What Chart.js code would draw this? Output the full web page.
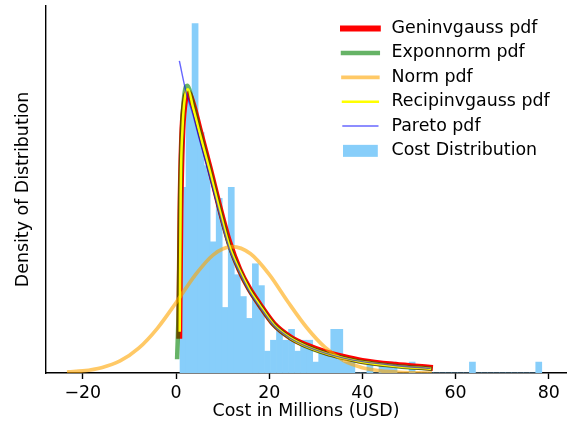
<!DOCTYPE html>
<html>
<head>
<meta charset="utf-8">
<script src="https://cdn.jsdelivr.net/npm/chart.js@4.4.0/dist/chart.umd.min.js"></script>
<style>
  html, body { margin: 0; padding: 0; background: #fff; }
  #wrap { width: 572px; height: 425px; }
</style>
</head>
<body>
<div id="wrap"><canvas id="costChart" width="572" height="425"></canvas></div>
<script>
// histogram of cost, 60 bins from 0.86 M USD, counts
const binStart = 0.86;
const binWidth = 1.294;
const binCounts = [17, 25, 32, 22, 19, 12, 16, 6, 17, 9,
                   7, 5, 10, 8, 2, 3, 4, 3, 4, 2,
                   3, 3, 1, 2, 2, 4, 4, 1, 1, 0,
                   0, 1, 0, 1, 1, 1, 0, 0, 1, 0,
                   0, 0, 0, 0, 0, 0, 0, 0, 1, 0,
                   0, 0, 0, 0, 0, 0, 0, 0, 0, 1];
const xTicks = [-20, 0, 20, 40, 60, 80];

// fitted pdfs (x = millions USD, y = density)
const geninvgaussX = [0.7, 0.95, 1.3, 1.8, 2.6, 3.6, 5.0, 7.2, 9.3, 11.4, 13.6, 15.7, 17.9, 21.0, 24.5, 28.0, 32.0, 36.0, 40.0, 47.0, 54.5];
const geninvgaussY = [0.0105, 0.045, 0.066, 0.0755, 0.0790, 0.0760, 0.0690, 0.0580, 0.0470, 0.0370, 0.0292, 0.0238, 0.0194, 0.0138, 0.0101, 0.0078, 0.0059, 0.0045, 0.0034, 0.0023, 0.0015];

const exponnormX = [0.25, 0.6, 0.9, 1.3, 1.8, 2.4, 3.6, 5.0, 7.2, 9.3, 11.4, 13.6, 15.7, 17.9, 21.0, 24.5, 28.0, 32.0, 36.0, 40.0, 47.0, 54.5];
const exponnormY = [0.0045, 0.020, 0.050, 0.069, 0.0785, 0.0810, 0.0760, 0.0685, 0.0575, 0.0465, 0.0362, 0.0290, 0.0236, 0.0192, 0.0136, 0.0099, 0.0075, 0.0056, 0.0042, 0.0031, 0.0020, 0.0012];

const normX = [-23, -20, -16, -12, -8, -4, 0, 4, 8, 12, 16, 20, 24, 28, 32, 36, 40, 44, 48, 54.5];
const normY = [0.0003, 0.0006, 0.0015, 0.0034, 0.0070, 0.0126, 0.0198, 0.0274, 0.0333, 0.0356, 0.0336, 0.0278, 0.0201, 0.0129, 0.0072, 0.0035, 0.0015, 0.0006, 0.0002, 0.0000];

const recipinvgaussX = [0.8, 1.0, 1.4, 1.9, 2.6, 3.6, 5.0, 7.2, 9.3, 11.4, 13.6, 15.7, 17.9, 21.0, 24.5, 28.0, 32.0, 36.0, 40.0, 47.0, 54.5];
const recipinvgaussY = [0.012, 0.050, 0.069, 0.0775, 0.0800, 0.0752, 0.0680, 0.0572, 0.0462, 0.0360, 0.0290, 0.0236, 0.0192, 0.0136, 0.0099, 0.0075, 0.0056, 0.0042, 0.0031, 0.0020, 0.0012];

const paretoX = [0.75, 2.2, 3.6, 5.0, 7.2, 9.3, 11.4, 13.6, 15.7, 17.9, 21.0, 24.5, 28.0, 32.0, 36.0, 40.0, 47.0, 54.5];
const paretoY = [0.0878, 0.0790, 0.0730, 0.0660, 0.0555, 0.0450, 0.0352, 0.0285, 0.0231, 0.0188, 0.0134, 0.0098, 0.0075, 0.0056, 0.0042, 0.0032, 0.0021, 0.0013];

const total = binCounts.reduce((a, b) => a + b, 0);
const histData = binCounts.map((c, i) => ({ x: binStart + binWidth * (i + 0.5), y: c / (total * binWidth) }));
const yMax = Math.max(...histData.map(p => p.y)) * 1.05;

function pts(xs, ys) {
  return xs.map((x, i) => ({ x: x, y: ys[i] }));
}

function curve(label, xs, ys, color, width, order) {
  return {
    type: 'line',
    label: label,
    data: pts(xs, ys),
    borderColor: color,
    borderWidth: width,
    pointRadius: 0,
    fill: false,
    cubicInterpolationMode: 'monotone',
    borderCapStyle: 'square',
    borderJoinStyle: 'round',
    order: order
  };
}

// matplotlib style legend, drawn inside the axes
const legendPlugin = {
  id: 'mplLegend',
  afterDraw(chart) {
    const ctx = chart.ctx;
    const x0 = 343, x1 = 377.8, tx = 391.5, y0 = 28.6, dy = 24.35;
    ctx.save();
    ctx.font = '17.4px "DejaVu Sans"';
    ctx.textBaseline = 'middle';
    ctx.textAlign = 'left';
    chart.data.datasets.forEach((d, i) => {
      const y = y0 + i * dy;
      if (d.type === 'line') {
        ctx.strokeStyle = d.borderColor;
        ctx.lineWidth = d.borderWidth;
        ctx.lineCap = 'square';
        ctx.beginPath();
        ctx.moveTo(x0, y);
        ctx.lineTo(x1, y);
        ctx.stroke();
      } else {
        ctx.fillStyle = d.backgroundColor;
        ctx.fillRect(x0, y - 5.5, x1 - x0, 12);
      }
      ctx.fillStyle = '#000';
      ctx.fillText(d.label, tx, y);
    });
    ctx.restore();
  }
};

Chart.defaults.font.family = '"DejaVu Sans", sans-serif';
Chart.defaults.font.size = 17.4;
Chart.defaults.color = '#000';

const ctx = document.getElementById('costChart').getContext('2d');
new Chart(ctx, {
  type: 'bar',
  data: {
    datasets: [
      curve('Geninvgauss pdf', geninvgaussX, geninvgaussY, 'rgb(255,0,0)', 6, 6),
      curve('Exponnorm pdf', exponnormX, exponnormY, 'rgba(0,128,0,0.6)', 4.5, 5),
      curve('Norm pdf', normX, normY, 'rgba(255,165,0,0.6)', 3.7, 4),
      curve('Recipinvgauss pdf', recipinvgaussX, recipinvgaussY, 'rgb(255,255,0)', 2.5, 3),
      curve('Pareto pdf', paretoX, paretoY, 'rgba(0,0,255,0.6)', 1.4, 2),
      {
        type: 'bar',
        label: 'Cost Distribution',
        data: histData,
        backgroundColor: '#87CEFA',
        borderWidth: 0,
        barPercentage: 1,
        categoryPercentage: 1,
        order: 10
      }
    ]
  },
  options: {
    responsive: false,
    animation: false,
    events: [],
    layout: { padding: { top: 6, right: 6, left: 0, bottom: 0 } },
    plugins: { legend: { display: false }, tooltip: { enabled: false } },
    scales: {
      x: {
        type: 'linear',
        min: -27.9,
        max: 83.7,
        offset: false,
        afterFit: s => { s.height = 52; },
        afterBuildTicks: s => { s.ticks = xTicks.map(v => ({ value: v })); },
        ticks: {
          autoSkip: false,
          maxRotation: 0,
          padding: 4,
          callback: v => (v < 0 ? '\u2212' + Math.abs(v) : String(v))
        },
        grid: { display: true, offset: false, drawOnChartArea: false, drawTicks: true, tickLength: 6, tickWidth: 1.4, tickColor: '#000' },
        border: { display: true, color: '#000', width: 1.4 },
        title: { display: true, text: 'Cost in Millions (USD)', padding: { top: 0, bottom: 3 } }
      },
      y: {
        min: 0,
        max: yMax,
        afterFit: s => { s.width = 46; },
        ticks: { display: false },
        grid: { display: false },
        border: { display: true, color: '#000', width: 1.4 },
        title: { display: true, text: 'Density of Distribution', padding: { top: 13.5, bottom: 0 } }
      }
    }
  },
  plugins: [legendPlugin]
});
</script>
</body>
</html>
